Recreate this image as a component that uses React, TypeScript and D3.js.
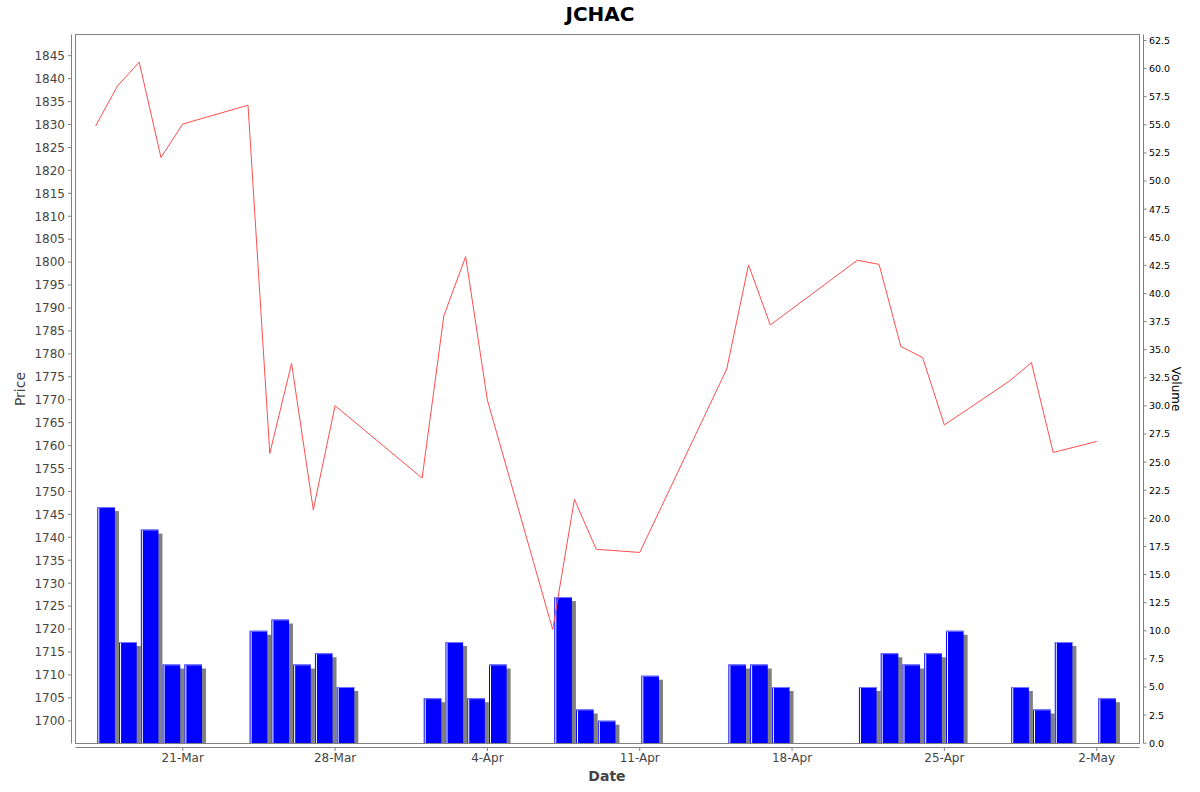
import React from 'react'
import * as d3 from 'd3'

// trading days, close price and volume
const dates = [
    '2025-03-17', '2025-03-18', '2025-03-19', '2025-03-20', '2025-03-21',
    '2025-03-24', '2025-03-25', '2025-03-26', '2025-03-27', '2025-03-28',
    '2025-04-01', '2025-04-02', '2025-04-03', '2025-04-04',
    '2025-04-07', '2025-04-08', '2025-04-09', '2025-04-11',
    '2025-04-15', '2025-04-16', '2025-04-17',
    '2025-04-21', '2025-04-22', '2025-04-23', '2025-04-24', '2025-04-25',
    '2025-04-28', '2025-04-29', '2025-04-30', '2025-05-02',
]
const prices = [
    1829.7, 1838.4, 1843.6, 1822.8, 1830.1,
    1834.2, 1758.3, 1777.9, 1746.0, 1768.7,
    1752.9, 1788.3, 1801.2, 1769.9,
    1719.9, 1748.3, 1737.4, 1736.7,
    1776.7, 1799.4, 1786.3,
    1800.4, 1799.5, 1781.6, 1779.2, 1764.5,
    1774.1, 1778.1, 1758.5, 1760.9,
]
const volumes = [
    21, 9, 19, 7, 7,
    10, 11, 7, 8, 5,
    4, 9, 4, 7,
    13, 3, 2, 6,
    7, 7, 5,
    5, 8, 7, 8, 10,
    5, 3, 9, 4,
]
const dateTicks = ['2025-03-21', '2025-03-28', '2025-04-04', '2025-04-11', '2025-04-18', '2025-04-25', '2025-05-02']
const priceTicks = d3.range(1700, 1846, 5)
const volumeTicks = d3.range(0, 62.6, 2.5)

const W = 1200
const H = 792
const plot = { left: 75.5, right: 1139.5, top: 34.5, bottom: 743.5 }
const font = '"DejaVu Sans", sans-serif'

const parse = d3.utcParse('%Y-%m-%d')
const fmtDate = d3.utcFormat('%-d-%b')

export default function App() {
    const days = dates.map(d => parse(d) as Date)

    const x = d3.scaleUtc()
        .domain([days[0], days[days.length - 1]])
        .range([95.7, 1096.7])
    const yPrice = d3.scaleLinear().domain([1700, 1845]).range([720.8, 55.7])
    const yVol = d3.scaleLinear().domain([0, 62.5]).range([743.2, 40.5])

    const dayW = x(d3.utcDay.offset(days[0], 1)) - x(days[0])
    const barW = dayW * 0.81

    const line = d3.line<number>()
        .x((_, i) => x(days[i]))
        .y(p => yPrice(p))

    return (
        <svg width={W} height={H} style={{ position: 'absolute', left: 0, top: 0, background: '#fff' }}
            fontFamily={font}>
            <defs>
                <clipPath id="plotClip">
                    <rect x={plot.left} y={plot.top} width={plot.right - plot.left} height={plot.bottom - plot.top} />
                </clipPath>
            </defs>

            <text x={600} y={21} textAnchor="middle" fontSize={20} fontWeight="bold" fill="#000">JCHAC</text>

            <g clipPath="url(#plotClip)">
                {/* shadows */}
                {volumes.map((v, i) => (
                    <rect key={'s' + i} x={x(days[i]) + 1.6 + 4} y={yVol(v) + 4}
                        width={barW} height={Math.max(0, yVol(0) - yVol(v))} fill="#808080" />
                ))}
                {volumes.map((v, i) => {
                    const bx = x(days[i]) + 1.6
                    const by = yVol(v)
                    const bh = yVol(0) - by
                    return (
                        <g key={'b' + i}>
                            <rect x={bx} y={by} width={barW} height={bh} fill="#0000ff" />
                            <rect x={bx} y={by} width={barW} height={1} fill="#7777ff" />
                            <rect x={bx + 1} y={by + 1} width={1} height={bh} fill="#ffffff" />
                        </g>
                    )
                })}
                <path d={line(prices) ?? ''} fill="none" stroke="#ff4d4d" strokeWidth={1} />
            </g>

            {/* plot frame */}
            <rect x={plot.left} y={plot.top} width={plot.right - plot.left} height={plot.bottom - plot.top}
                fill="none" stroke="#808080" strokeWidth={1} />

            {/* left price axis */}
            <line x1={71.5} x2={71.5} y1={plot.top} y2={plot.bottom} stroke="#808080" />
            {priceTicks.map(t => (
                <g key={'p' + t}>
                    <line x1={68} x2={71.5} y1={yPrice(t)} y2={yPrice(t)} stroke="#808080" />
                    <text x={65} y={yPrice(t)} dy="0.36em" textAnchor="end" fontSize={12} fill="#444">{t}</text>
                </g>
            ))}
            <text transform={`translate(25,${(plot.top + plot.bottom) / 2}) rotate(-90)`} textAnchor="middle"
                fontSize={14} fill="#444">Price</text>

            {/* right volume axis */}
            <line x1={1143.5} x2={1143.5} y1={plot.top} y2={plot.bottom} stroke="#808080" />
            {volumeTicks.map(t => (
                <g key={'v' + t}>
                    <line x1={1143.5} x2={1146.5} y1={yVol(t)} y2={yVol(t)} stroke="#808080" />
                    <text x={1149} y={yVol(t)} dy="0.36em" fontSize={9.5} fill="#000">{t.toFixed(1)}</text>
                </g>
            ))}
            <text transform={`translate(1172,${(plot.top + plot.bottom) / 2}) rotate(90)`} textAnchor="middle"
                fontSize={12} fill="#000">Volume</text>

            {/* bottom date axis */}
            <line x1={plot.left} x2={plot.right} y1={747.5} y2={747.5} stroke="#808080" />
            {dateTicks.map(t => {
                const tx = x(parse(t) as Date)
                return (
                    <g key={'d' + t}>
                        <line x1={tx} x2={tx} y1={747.5} y2={751} stroke="#808080" />
                        <text x={tx} y={762} textAnchor="middle" fontSize={12} fill="#444">{fmtDate(parse(t) as Date)}</text>
                    </g>
                )
            })}
            <text x={607} y={781} textAnchor="middle" fontSize={14} fontWeight="bold" fill="#444">Date</text>
        </svg>
    )
}
